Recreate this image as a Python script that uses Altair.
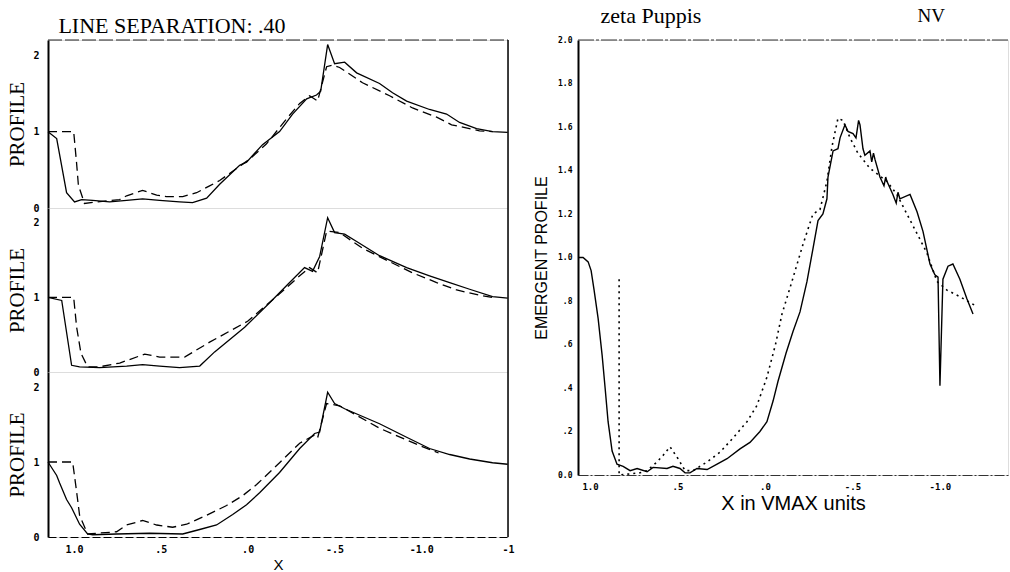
import altair as alt
import pandas as pd

# ---------------- texts ----------------
title_left = "LINE SEPARATION:  .40"
title_right = "zeta Puppis"
title_ion = "NV"

# ---------------- left panel: axis ticks ----------------
x_ticks_left = [1.0, 0.5, 0.0, -0.5, -1.0, -1.5]
x_labels_left = ["1.0", ".5", ".0", "-.5", "-1.0", "-1"]
y_ticks_left = [0, 1, 2]

# row 1
r1_solid_x = [1.15, 1.10, 1.043, 0.997, 0.956, 0.893, 0.795, 0.697, 0.605, 0.507, 0.392, 0.317, 0.236, 0.161,
              0.046, 0.006, -0.086, -0.184, -0.259, -0.340, -0.397, -0.421, -0.461, -0.501, -0.559, -0.628,
              -0.760, -0.835, -0.916, -1.048, -1.146, -1.221, -1.319, -1.411, -1.498]
r1_solid_y = [1.0, 0.91, 0.20, 0.08, 0.11, 0.10, 0.08, 0.10, 0.12, 0.10, 0.08, 0.07, 0.13, 0.31,
              0.56, 0.60, 0.83, 1.0, 1.23, 1.43, 1.48, 1.53, 2.14, 1.89, 1.91, 1.77,
              1.63, 1.51, 1.40, 1.29, 1.23, 1.12, 1.04, 1.00, 0.99]
r1_dash_x = [1.15, 1.002, 0.985, 0.975, 0.94, 0.87, 0.737, 0.697, 0.605, 0.524, 0.467, 0.374, 0.294, 0.219,
             0.161, -0.012, -0.109, -0.225, -0.30, -0.357, -0.403, -0.455, -0.49, -0.53, -0.662, -0.818,
             -0.95, -1.089, -1.175, -1.296, -1.336, -1.411]
r1_dash_y = [1.0, 1.0, 0.58, 0.3, 0.06, 0.08, 0.11, 0.16, 0.23, 0.17, 0.15, 0.15, 0.2, 0.29,
             0.36, 0.64, 0.84, 1.17, 1.37, 1.47, 1.40, 1.85, 1.87, 1.84, 1.64, 1.47,
             1.31, 1.19, 1.09, 1.03, 1.01, 1.0]

# row 2
r2_solid_x = [1.15, 1.071, 1.014, 0.968, 0.853, 0.697, 0.605, 0.507, 0.392, 0.276, 0.19, 0.017, -0.127,
              -0.242, -0.328, -0.374, -0.415, -0.461, -0.501, -0.559, -0.628, -0.76, -0.916, -1.048,
              -1.164, -1.279, -1.411, -1.498]
r2_solid_y = [1.0, 0.96, 0.09, 0.07, 0.06, 0.08, 0.10, 0.08, 0.06, 0.08, 0.27, 0.60, 0.93,
              1.20, 1.40, 1.35, 1.55, 2.07, 1.87, 1.85, 1.75, 1.56, 1.40, 1.29,
              1.20, 1.11, 1.01, 0.99]
r2_dash_x = [1.15, 1.002, 0.985, 0.96, 0.922, 0.853, 0.737, 0.593, 0.507, 0.363, 0.219, 0.0, -0.184,
             -0.30, -0.357, -0.403, -0.455, -0.53, -0.662, -0.818, -0.95, -1.089, -1.204, -1.336, -1.411]
r2_dash_y = [1.0, 1.0, 0.6, 0.25, 0.07, 0.07, 0.12, 0.24, 0.20, 0.20, 0.40, 0.68, 1.05,
             1.29, 1.40, 1.33, 1.89, 1.87, 1.66, 1.48, 1.33, 1.20, 1.10, 1.03, 1.0]

# row 3
r3_solid_x = [1.15, 1.10, 1.083, 1.043, 1.014, 0.968, 0.922, 0.893, 0.755, 0.565, 0.374, 0.276, 0.179,
              0.086, 0.006, -0.069, -0.184, -0.30, -0.386, -0.415, -0.461, -0.501, -0.559, -0.76,
              -0.916, -1.048, -1.164, -1.279, -1.411, -1.498]
r3_solid_y = [1.0, 0.82, 0.72, 0.50, 0.39, 0.17, 0.04, 0.03, 0.04, 0.05, 0.04, 0.10, 0.16,
              0.30, 0.43, 0.59, 0.86, 1.18, 1.38, 1.40, 1.93, 1.78, 1.71, 1.51,
              1.33, 1.18, 1.10, 1.04, 0.99, 0.97]
r3_dash_x = [1.15, 1.008, 0.985, 0.968, 0.922, 0.755, 0.697, 0.605, 0.524, 0.432, 0.351, 0.236, 0.121,
             0.029, -0.052, -0.184, -0.30, -0.386, -0.403, -0.455, -0.53, -0.76, -0.991, -1.1]
r3_dash_y = [1.0, 1.0, 0.6, 0.29, 0.04, 0.07, 0.16, 0.22, 0.16, 0.13, 0.17, 0.29, 0.42,
             0.55, 0.70, 0.99, 1.25, 1.36, 1.32, 1.78, 1.75, 1.45, 1.22, 1.12]

# ---------------- right panel ----------------
x_ticks_right = [1.0, 0.5, 0.0, -0.5, -1.0]
x_labels_right = ["1.0", ".5", ".0", "-.5", "-1.0"]
y_ticks_right = [0.0, 0.2, 0.4, 0.6, 0.8, 1.0, 1.2, 1.4, 1.6, 1.8, 2.0]
y_labels_right = ["0.0", ".2", ".4", ".6", ".8", "1.0", "1.2", "1.4", "1.6", "1.8", "2.0"]

obs_x = [1.069, 1.04, 1.011, 0.994, 0.977, 0.954, 0.931, 0.914, 0.897, 0.874, 0.846, 0.811, 0.771, 0.731,
         0.674, 0.64, 0.56, 0.526, 0.486, 0.457, 0.429, 0.389, 0.331, 0.274, 0.217, 0.143, 0.086, 0.029,
         -0.011, -0.046, -0.074, -0.12, -0.16, -0.2, -0.24, -0.274, -0.303, -0.331, -0.354, -0.36, -0.389,
         -0.417, -0.429, -0.457, -0.474, -0.503, -0.52, -0.535, -0.543, -0.56, -0.571, -0.6, -0.61, -0.62,
         -0.629, -0.657, -0.68, -0.69, -0.697, -0.731, -0.75, -0.76, -0.771, -0.829, -0.869, -0.903,
         -0.943, -0.971, -0.989, -1.0, -1.017, -1.046, -1.074, -1.114, -1.154, -1.189]
obs_y = [1.0, 1.0, 0.98, 0.94, 0.85, 0.72, 0.55, 0.40, 0.245, 0.11, 0.05, 0.04, 0.02, 0.03,
         0.015, 0.035, 0.03, 0.04, 0.03, 0.01, 0.01, 0.03, 0.025, 0.05, 0.075, 0.12, 0.15, 0.20,
         0.245, 0.34, 0.43, 0.56, 0.66, 0.75, 0.89, 1.04, 1.17, 1.20, 1.27, 1.37, 1.49,
         1.50, 1.55, 1.61, 1.58, 1.57, 1.55, 1.63, 1.61, 1.50, 1.47, 1.49, 1.44, 1.48,
         1.45, 1.37, 1.33, 1.37, 1.35, 1.29, 1.25, 1.30, 1.27, 1.29, 1.21, 1.12,
         0.97, 0.92, 0.91, 0.41, 0.90, 0.96, 0.97, 0.90, 0.81, 0.74]

model_x = [0.834, 0.834, 0.714, 0.674, 0.617, 0.583, 0.543, 0.497, 0.457, 0.411, 0.331, 0.257, 0.183, 0.103,
           0.046, -0.011, -0.06, -0.097, -0.154, -0.217, -0.274, -0.314, -0.354, -0.383, -0.417, -0.446,
           -0.486, -0.531, -0.6, -0.697, -0.754, -0.811, -0.869, -0.926, -0.983, -1.04, -1.114, -1.2]
model_y = [0.9, 0.0, 0.01, 0.02, 0.06, 0.09, 0.13, 0.075, 0.02, 0.02, 0.06, 0.105, 0.17, 0.245,
           0.32, 0.45, 0.60, 0.74, 0.89, 1.06, 1.20, 1.22, 1.35, 1.51, 1.64, 1.63,
           1.55, 1.48, 1.41, 1.35, 1.29, 1.20, 1.11, 1.02, 0.89, 0.85, 0.82, 0.78]

# ---------------- styling ----------------
SERIF = "Liberation Serif"
SANS = "Liberation Sans"
MONO = "DejaVu Sans Mono"
LEFT_DOMAIN = [1.15, -1.5]
LEFT_YDOM = [0, 2.2]
LEFT_W = 460
ROW_H = [168, 164, 165]
RIGHT_DOMAIN = [1.069, -1.389]
RIGHT_YDOM = [0, 2.0]
RIGHT_W = 430
RIGHT_H = 435


def label_expr(vals, labs):
    expr = "''"
    for v, l in zip(reversed(vals), reversed(labs)):
        expr = f"abs(datum.value - ({v})) < 0.001 ? '{l}' : ({expr})"
    return expr


def frame(xs, ys):
    return pd.DataFrame({"x": xs, "y": ys, "i": list(range(len(xs)))})


def make_row(sx, sy, dx, dy, h, first, last):
    xaxis = alt.Axis(values=x_ticks_left, labelExpr=label_expr(x_ticks_left, x_labels_left),
                     labels=last, ticks=False, grid=False, title="X" if last else None,
                     domainColor="black", domainWidth=1, domainDash=[8, 3],
                     labelFont=MONO, labelFontSize=10, labelFontWeight="bold", labelColor="black",
                     labelPadding=7, labelFlush=False,
                     titleFont=SANS, titleFontSize=15, titleFontWeight="normal", titleColor="black",
                     titlePadding=3)
    yaxis = alt.Axis(values=y_ticks_left, format="d", ticks=False, grid=False, title="PROFILE",
                     domainColor="black", domainWidth=2,
                     labelFont=MONO, labelFontSize=10, labelFontWeight="bold", labelColor="black",
                     labelPadding=9,
                     titleFont=SERIF, titleFontSize=21, titleFontWeight="normal", titleColor="black",
                     titlePadding=5)
    xenc = alt.X("x:Q", scale=alt.Scale(domain=LEFT_DOMAIN, nice=False, zero=False), axis=xaxis)
    yenc = alt.Y("y:Q", scale=alt.Scale(domain=LEFT_YDOM, nice=False, zero=False), axis=yaxis)
    solid = alt.Chart(frame(sx, sy)).mark_line(color="black", strokeWidth=1.3).encode(
        x=xenc, y=yenc, order="i:Q")
    dashed = alt.Chart(frame(dx, dy)).mark_line(color="black", strokeWidth=1.3, strokeDash=[9, 5]).encode(
        x="x:Q", y="y:Q", order="i:Q")
    border = alt.Chart().mark_rule(color="black", strokeWidth=1.5).encode(
        x=alt.datum(LEFT_DOMAIN[1]), y=alt.datum(LEFT_YDOM[0]), y2=alt.datum(LEFT_YDOM[1]))
    layers = [solid, dashed, border]
    if first:
        top = alt.Chart().mark_rule(color="#222", strokeWidth=1, strokeDash=[14, 3]).encode(
            x=alt.datum(LEFT_DOMAIN[0]), x2=alt.datum(LEFT_DOMAIN[1]), y=alt.datum(LEFT_YDOM[1]))
        ttl = alt.Chart().mark_text(align="left", baseline="middle", font=SERIF, fontSize=22,
                                    color="black").encode(
            x=alt.datum(1.09), y=alt.datum(2.38), text=alt.value(title_left))
        # invisible spacer: keeps the tops of both panels level in the concat layout
        spacer = alt.Chart().mark_text(align="left", baseline="middle", font=SERIF, fontSize=22,
                                       opacity=0).encode(
            x=alt.datum(1.0), y=alt.datum(2.49), text=alt.value(title_right))
        layers += [top, ttl, spacer]
    return alt.layer(*layers).properties(width=LEFT_W, height=h)


left = alt.vconcat(
    make_row(r1_solid_x, r1_solid_y, r1_dash_x, r1_dash_y, ROW_H[0], True, False),
    make_row(r2_solid_x, r2_solid_y, r2_dash_x, r2_dash_y, ROW_H[1], False, False),
    make_row(r3_solid_x, r3_solid_y, r3_dash_x, r3_dash_y, ROW_H[2], False, True),
    spacing=0, bounds="flush")

rx_axis = alt.Axis(values=x_ticks_right, labelExpr=label_expr(x_ticks_right, x_labels_right),
                   ticks=False, grid=False, title="X in VMAX units",
                   domainColor="#333", domainWidth=1, domainDash=[10, 2, 2, 2],
                   labelFont=MONO, labelFontSize=9, labelFontWeight="bold", labelColor="black",
                   labelPadding=7,
                   titleFont=SANS, titleFontSize=20, titleFontWeight="normal", titleColor="black",
                   titlePadding=2)
ry_axis = alt.Axis(values=y_ticks_right, labelExpr=label_expr(y_ticks_right, y_labels_right),
                   ticks=False, grid=False, title="EMERGENT PROFILE",
                   domainColor="black", domainWidth=2,
                   labelFont=MONO, labelFontSize=8, labelFontWeight="bold", labelColor="black",
                   labelPadding=6,
                   titleFont=SANS, titleFontSize=16, titleFontWeight="normal", titleColor="black",
                   titlePadding=8)
rx = alt.X("x:Q", scale=alt.Scale(domain=RIGHT_DOMAIN, nice=False, zero=False), axis=rx_axis)
ry = alt.Y("y:Q", scale=alt.Scale(domain=RIGHT_YDOM, nice=False, zero=False), axis=ry_axis)

obs = alt.Chart(frame(obs_x, obs_y)).mark_line(color="black", strokeWidth=1.4).encode(
    x=rx, y=ry, order="i:Q")
model = alt.Chart(frame(model_x, model_y)).mark_line(color="black", strokeWidth=1.6,
                                                     strokeDash=[2, 4]).encode(
    x="x:Q", y="y:Q", order="i:Q")
rtop = alt.Chart().mark_rule(color="#333", strokeWidth=1, strokeDash=[16, 2, 3, 2]).encode(
    x=alt.datum(RIGHT_DOMAIN[0]), x2=alt.datum(RIGHT_DOMAIN[1]), y=alt.datum(RIGHT_YDOM[1]))
t1 = alt.Chart().mark_text(align="left", baseline="middle", font=SERIF, fontSize=22,
                           color="black").encode(x=alt.datum(0.94), y=alt.datum(2.11),
                                                 text=alt.value(title_right))
t2 = alt.Chart().mark_text(align="center", baseline="middle", font=SERIF, fontSize=19,
                           color="black").encode(x=alt.datum(-0.95), y=alt.datum(2.11),
                                                 text=alt.value(title_ion))
right = alt.layer(obs, model, rtop, t1, t2).properties(width=RIGHT_W, height=RIGHT_H)

chart = alt.hconcat(left, right, spacing=18).properties(
    padding={"left": 6, "top": 4, "right": 0, "bottom": 0}
).configure_view(stroke=None).configure(background="white")

chart.save("out.html", embed_options={"renderer": "svg", "actions": False})
